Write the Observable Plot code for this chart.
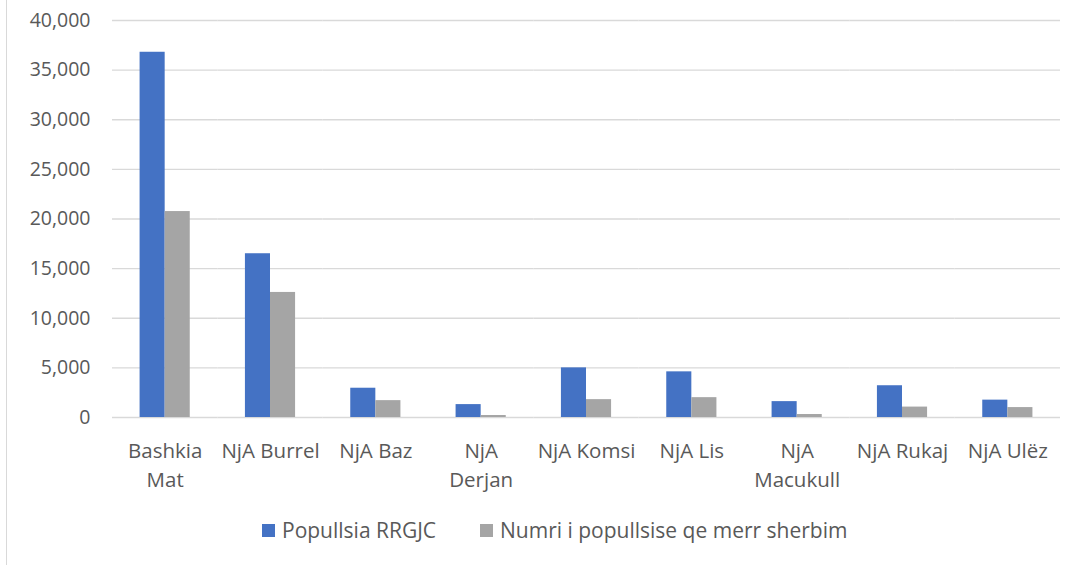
<!DOCTYPE html>
<html><head><meta charset="utf-8">
<script src="https://cdn.jsdelivr.net/npm/d3@7"></script>
<script src="https://cdn.jsdelivr.net/npm/@observablehq/plot@0.6"></script>
<style>
body{margin:0;background:#fff;font-family:"Open Sans",sans-serif;}
#wrap{position:relative;width:1076px;height:565px;overflow:hidden;}
#frame{position:absolute;left:6px;top:0;width:1px;height:565px;background:#d9d9d9;}
#chart{position:absolute;left:0;top:0;}
.item{position:absolute;top:517px;height:26px;line-height:26px;font-size:21px;color:#595959;display:flex;align-items:center;white-space:nowrap;}
.sw{width:13px;height:13px;display:inline-block;margin-right:7px;}
</style>
</head><body>
<div id="wrap"><div id="frame"></div><div id="chart"></div>
<div class="item" style="left:262px"><span class="sw" style="background:#4472C4"></span>Popullsia RRGJC</div>
<div class="item" style="left:480px"><span class="sw" style="background:#A5A5A5"></span>Numri i popullsise qe merr sherbim</div>
</div>
<script>
const categories = ["Bashkia Mat","NjA Burrel","NjA Baz","NjA Derjan","NjA Komsi","NjA Lis","NjA Macukull","NjA Rukaj","NjA Ulëz"];
const tickLabels = ["Bashkia\nMat","NjA Burrel","NjA Baz","NjA\nDerjan","NjA Komsi","NjA Lis","NjA\nMacukull","NjA Rukaj","NjA Ulëz"];
const seriesNames = ["Popullsia RRGJC","Numri i popullsise qe merr sherbim"];
const popullsia = [36800, 16500, 2950, 1300, 5000, 4600, 1600, 3200, 1750];
const sherbim   = [20750, 12600, 1700, 200, 1800, 2000, 300, 1050, 1000];
const yTicks = [0,5000,10000,15000,20000,25000,30000,35000,40000];
const seriesColors = ["#4472C4","#A5A5A5"];

const rows = [];
categories.forEach((c,i)=>{
  rows.push({cat:c, series:seriesNames[0], value:popullsia[i]});
  rows.push({cat:c, series:seriesNames[1], value:sherbim[i]});
});

const chart = Plot.plot({
  width:1076, height:500,
  marginTop:20, marginBottom:83, marginLeft:112, marginRight:16,
  style:{fontFamily:"'Open Sans', sans-serif", fontSize:"19.5px", color:"#595959", background:"transparent"},
  fx:{domain:categories, paddingInner:0, paddingOuter:0, round:false, label:null, axis:null},
  x:{domain:seriesNames, paddingInner:0, paddingOuter:1.1, round:false, axis:null},
  y:{domain:[0,40000], label:null},
  color:{domain:seriesNames, range:seriesColors},
  marks:[
    Plot.gridY(yTicks,{stroke:"#d9d9d9", strokeOpacity:1, strokeWidth:1.3}),
    Plot.barY(rows,{fx:"cat", x:"series", y:"value", fill:"series"}),
    Plot.axisY(yTicks,{tickSize:0, tickPadding:22, tickFormat:d3.format(","), label:null, fill:"#595959"}),
    Plot.axisFx({anchor:"bottom", tickSize:0, tickPadding:19, fontSize:20.5, lineHeight:1.45, label:null, fill:"#595959",
      tickFormat:d=>tickLabels[categories.indexOf(d)]})
  ]
});
document.getElementById("chart").appendChild(chart);
</script>
</body></html>
